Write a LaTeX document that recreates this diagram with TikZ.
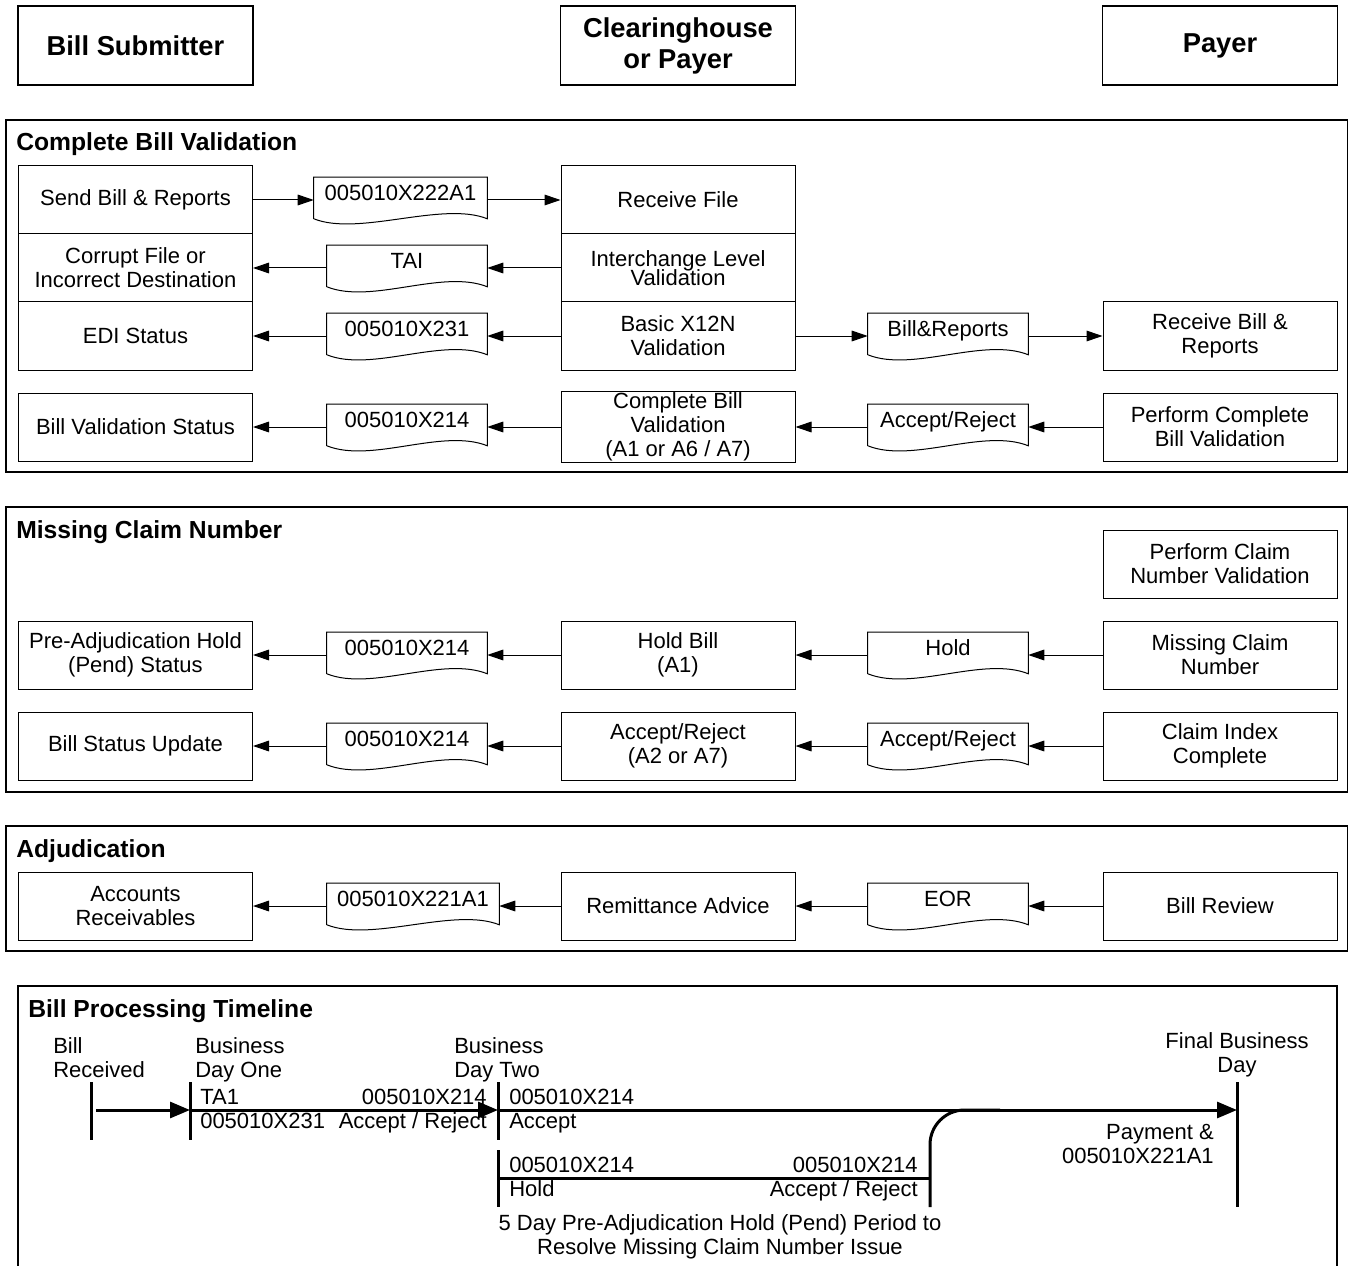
\documentclass[tikz,border=0pt]{standalone}
\usepackage{fontspec}
\setmainfont{Liberation Sans}
\usetikzlibrary{arrows.meta}

\tikzset{
  head/.style={draw, line width=1.1pt, minimum width=176.25pt, minimum height=59.25pt, align=center, font=\fontsize{20.5}{23.25}\selectfont\bfseries},
  proc/.style={draw, line width=0.75pt, minimum width=175.5pt, minimum height=51pt, inner sep=1pt, align=center, font=\fontsize{16.5}{18}\selectfont},
  docu/.style={minimum width=120pt, minimum height=30.75pt, inner sep=0pt, text height=12pt, text depth=8.25pt, font=\fontsize{16.5}{18}\selectfont,
    append after command={\pgfextra{\draw[line width=0.75pt] (\tikzlastnode.south west) -- (\tikzlastnode.north west) -- (\tikzlastnode.north east) -- (\tikzlastnode.south east) .. controls +(-45,-18) and +(45,18) .. (\tikzlastnode.south west);}}},
  secbox/.style={draw, line width=1.1pt},
  sectitle/.style={anchor=north west, inner sep=0pt, font=\fontsize{18.5}{21}\selectfont\bfseries},
  flow/.style={line width=0.75pt, -{Triangle[length=12pt,width=8pt]}},
  tl/.style={line width=2.25pt},
  tlarrow/.style={line width=2.25pt, -{Triangle[length=15pt,width=12pt]}},
  tltext/.style={inner sep=0pt, font=\fontsize{16.5}{18}\selectfont},
}

\begin{document}
\begin{tikzpicture}[x=0.75pt, y=-0.75pt]
\useasboundingbox (0,0) rectangle (1349,1266);

% column headers
\node[head] (bs) at (135.5,45.5) {Bill Submitter};
\node[head] (ch) at (678,45.5) {Clearinghouse\\or Payer};
\node[head] (py) at (1220,45.5) {Payer};

% complete bill validation
\draw[secbox] (6,120) rectangle (1347.5,472);
\node[sectitle] (sec1) at (16,132) {Complete Bill Validation};

\node[proc] (send) at (135.5,200) {Send Bill \& Reports};
\node[proc] (recv) at (678,200) {Receive File};
\node[proc] (corrupt) at (135.5,268) {Corrupt File or\\Incorrect Destination};
\node[proc] (inter) at (678,268) {Interchange Level\\[-3.5pt]Validation};
\node[proc] (edi) at (135.5,336) {EDI Status};
\node[proc] (basic) at (678,336) {Basic X12N\\Validation};
\node[proc] (rbill) at (1220,336) {Receive Bill \&\\Reports};
\node[proc] (bvstat) at (135.5,427) {Bill Validation Status};
\node[proc] (cbv) at (678,427) {Complete Bill\\Validation\\(A1 or A6 / A7)};
\node[proc] (pcbv) at (1220,427) {Perform Complete\\Bill Validation};

\node[docu, minimum width=129.75pt] (d222) at (400.5,198) {005010X222A1};
\node[docu] (dtai) at (407,266) {TAI};
\node[docu] (d231) at (407,334) {005010X231};
\node[docu] (dbr) at (948,334) {Bill\&Reports};
\node[docu] (d214a) at (407,425) {005010X214};
\node[docu] (dara) at (948,425) {Accept/Reject};

\draw[flow] (send.east) -- (send.east -| d222.west);
\draw[flow] (recv.west -| d222.east) -- (recv.west);
\draw[flow] (inter.west) -- (inter.west -| dtai.east);
\draw[flow] (corrupt.east -| dtai.west) -- (corrupt.east);
\draw[flow] (basic.west) -- (basic.west -| d231.east);
\draw[flow] (edi.east -| d231.west) -- (edi.east);
\draw[flow] (basic.east) -- (basic.east -| dbr.west);
\draw[flow] (rbill.west -| dbr.east) -- (rbill.west);
\draw[flow] (pcbv.west) -- (pcbv.west -| dara.east);
\draw[flow] (cbv.east -| dara.west) -- (cbv.east);
\draw[flow] (cbv.west) -- (cbv.west -| d214a.east);
\draw[flow] (bvstat.east -| d214a.west) -- (bvstat.east);

% missing claim number
\draw[secbox] (6,507) rectangle (1347.5,792);
\node[sectitle] (sec2) at (16,520) {Missing Claim Number};

\node[proc] (pcnv) at (1220,564) {Perform Claim\\Number Validation};
\node[proc] (preadj) at (135.5,655) {Pre-Adjudication Hold\\(Pend) Status};
\node[proc] (holdbill) at (678,655) {Hold Bill\\(A1)};
\node[proc] (mcn) at (1220,655) {Missing Claim\\Number};
\node[proc] (bsu) at (135.5,746) {Bill Status Update};
\node[proc] (ara2) at (678,746) {Accept/Reject\\(A2 or A7)};
\node[proc] (cic) at (1220,746) {Claim Index\\Complete};

\node[docu] (dh214) at (407,653) {005010X214};
\node[docu] (dhold) at (948,653) {Hold};
\node[docu] (du214) at (407,744) {005010X214};
\node[docu] (duar) at (948,744) {Accept/Reject};

\draw[flow] (mcn.west) -- (mcn.west -| dhold.east);
\draw[flow] (holdbill.east -| dhold.west) -- (holdbill.east);
\draw[flow] (holdbill.west) -- (holdbill.west -| dh214.east);
\draw[flow] (preadj.east -| dh214.west) -- (preadj.east);
\draw[flow] (cic.west) -- (cic.west -| duar.east);
\draw[flow] (ara2.east -| duar.west) -- (ara2.east);
\draw[flow] (ara2.west) -- (ara2.west -| du214.east);
\draw[flow] (bsu.east -| du214.west) -- (bsu.east);

% adjudication
\draw[secbox] (6,826) rectangle (1347.5,951);
\node[sectitle] (sec3) at (16,839) {Adjudication};

\node[proc] (accrec) at (135.5,906) {Accounts\\Receivables};
\node[proc] (remit) at (678,906) {Remittance Advice};
\node[proc] (brev) at (1220,906) {Bill Review};
\node[docu, minimum width=129pt] (d221) at (413,904) {005010X221A1};
\node[docu] (deor) at (948,904) {EOR};

\draw[flow] (brev.west) -- (brev.west -| deor.east);
\draw[flow] (remit.east -| deor.west) -- (remit.east);
\draw[flow] (remit.west) -- (remit.west -| d221.east);
\draw[flow] (accrec.east -| d221.west) -- (accrec.east);

% timeline
\draw[secbox] (18,1270) -- (18,986) -- (1337,986) -- (1337,1270);
\node[sectitle] (sec4) at (28,999) {Bill Processing Timeline};

\coordinate (p0) at (96,1110);
\coordinate (p1) at (190,1110);
\coordinate (p2) at (498,1110);
\coordinate (p3) at (1237,1110);
\coordinate (q0) at (498,1178);
\coordinate (q1) at (930,1178);
\coordinate (q2) at (930,1207);

\draw[tl] (91,1082) -- (91,1140);
\draw[tl] (190,1082) -- (190,1140);
\draw[tl] (498,1082) -- (498,1140);
\draw[tl] (498,1150) -- (498,1207);
\draw[tl] (1237,1082) -- (1237,1207);

\draw[tlarrow] (p0) -- (p1);
\draw[tlarrow] (p1) -- (p2);
\draw[tlarrow] (p2) -- (p3);
\draw[tl] (q0) -- (q1);
\draw[tl, rounded corners=26pt] (q2) -- (q2 |- p3) -- (1000,1110);

\node[tltext, anchor=north west, align=left] (lrec) at (53,1037) {Bill\\Received};
\node[tltext, anchor=north west, align=left] (lday1) at (195,1037) {Business\\Day One};
\node[tltext, anchor=north west, align=left] (lday2) at (454,1037) {Business\\Day Two};
\node[tltext, anchor=north, align=center] (lfinal) at (1237,1032) {Final Business\\Day};
\node[tltext, anchor=north west, align=left] (lta1) at (200,1089) {TA1\\005010X231};
\node[tltext, anchor=north east, align=right] (lar1) at (487,1089) {005010X214\\Accept / Reject};
\node[tltext, anchor=north west, align=left] (lacc) at (509,1089) {005010X214\\Accept};
\node[tltext, anchor=north east, align=right] (lpay) at (1214,1124) {Payment \&\\005010X221A1};
\node[tltext, anchor=north west, align=left] (lhold) at (509,1157) {005010X214\\Hold};
\node[tltext, anchor=north east, align=right] (lar2) at (918,1157) {005010X214\\Accept / Reject};
\node[tltext, anchor=north, align=center] (lpend) at (720,1214) {5 Day Pre-Adjudication Hold (Pend) Period to\\Resolve Missing Claim Number Issue};
\end{tikzpicture}
\end{document}
